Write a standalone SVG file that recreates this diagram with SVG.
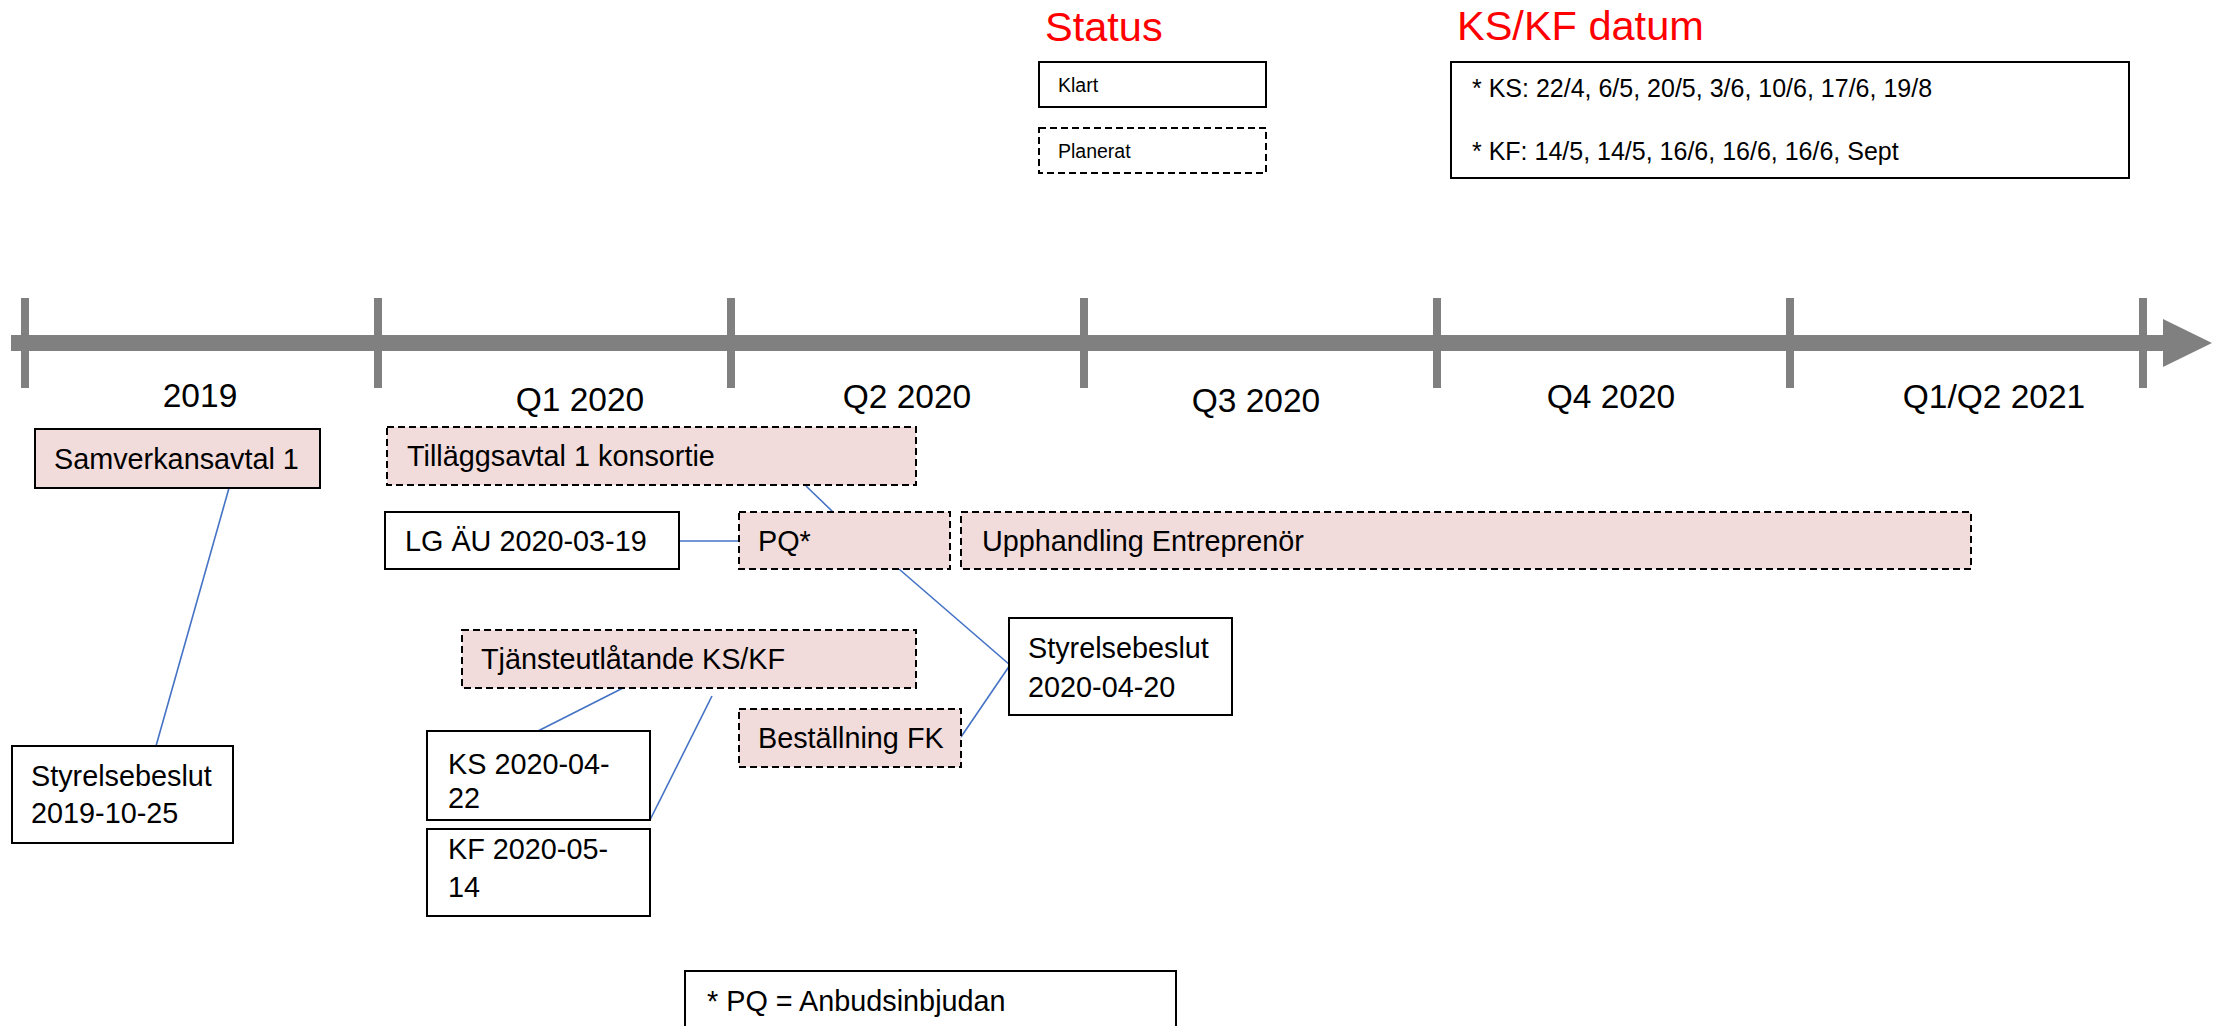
<svg xmlns="http://www.w3.org/2000/svg" width="2220" height="1026" viewBox="0 0 2220 1026">
<style>
text{font-family:"Liberation Sans",Arial,sans-serif;fill:#000}
.t{font-size:28.8px}
.axl{font-size:33.5px}
.title{font-size:41.5px;fill:#FF0000}
.small{font-size:19.5px}
.ks{font-size:25px}
.done{fill:#FFFFFF;stroke:#000;stroke-width:2}
.plan{fill:#F2DCDB;stroke:#000;stroke-width:2;stroke-dasharray:7 4}
.planw{fill:#FFFFFF;stroke:#000;stroke-width:2;stroke-dasharray:7 4}
.con line{stroke:#4472C4;stroke-width:1.6}
.axis{fill:#808080}
</style>
<g id="timeline">
<rect class="axis" x="11" y="335" width="2154" height="16"/>
<polygon class="axis" points="2163,319 2212,343 2163,367"/>
<rect class="axis" x="21" y="298" width="8" height="90"/>
<rect class="axis" x="374" y="298" width="8" height="90"/>
<rect class="axis" x="727" y="298" width="8" height="90"/>
<rect class="axis" x="1080" y="298" width="8" height="90"/>
<rect class="axis" x="1433" y="298" width="8" height="90"/>
<rect class="axis" x="1786" y="298" width="8" height="90"/>
<rect class="axis" x="2139" y="298" width="8" height="90"/>
<text class="axl" x="200" y="407" text-anchor="middle">2019</text>
<text class="axl" x="580" y="411" text-anchor="middle">Q1 2020</text>
<text class="axl" x="907" y="408" text-anchor="middle">Q2 2020</text>
<text class="axl" x="1256" y="412" text-anchor="middle">Q3 2020</text>
<text class="axl" x="1611" y="408" text-anchor="middle">Q4 2020</text>
<text class="axl" x="1994" y="408" text-anchor="middle">Q1/Q2 2021</text>
</g>
<g id="legend-status">
<text class="title" x="1045" y="41">Status</text>
<rect class="done" x="1039" y="62" width="227" height="45"/>
<text class="small" x="1058" y="92">Klart</text>
<rect class="planw" x="1039" y="128" width="227" height="45"/>
<text class="small" x="1058" y="158">Planerat</text>
</g>
<g id="legend-kskf">
<text class="title" x="1457" y="40">KS/KF datum</text>
<rect class="done" x="1451" y="62" width="678" height="116"/>
<text class="ks" x="1472" y="97">* KS: 22/4, 6/5, 20/5, 3/6, 10/6, 17/6, 19/8</text>
<text class="ks" x="1472" y="160">* KF: 14/5, 14/5, 16/6, 16/6, 16/6, Sept</text>
</g>
<g id="connectors" class="con">
<line x1="229" y1="488" x2="156" y2="746"/>
<line x1="806" y1="486" x2="833" y2="512"/>
<line x1="679" y1="541" x2="739" y2="541"/>
<line x1="899" y1="569" x2="1010" y2="665"/>
<line x1="961" y1="737" x2="1010" y2="665"/>
<line x1="623" y1="688" x2="538" y2="731"/>
<line x1="712" y1="696" x2="650" y2="820"/>
</g>
<g id="n-samverkansavtal">
<rect class="done" x="35" y="429" width="285" height="59" style="fill:#F2DCDB"/>
<text class="t" x="54" y="469">Samverkansavtal 1</text>
</g>
<g id="n-tillaggsavtal">
<rect class="plan" x="387" y="427" width="529" height="58"/>
<text class="t" x="407" y="466">Tilläggsavtal 1 konsortie</text>
</g>
<g id="n-lgau">
<rect class="done" x="385" y="512" width="294" height="57"/>
<text class="t" x="405" y="551">LG ÄU 2020-03-19</text>
</g>
<g id="n-pq">
<rect class="plan" x="739" y="512" width="211" height="57"/>
<text class="t" x="758" y="551">PQ*</text>
</g>
<g id="n-upphandling">
<rect class="plan" x="961" y="512" width="1010" height="57"/>
<text class="t" x="982" y="551">Upphandling Entreprenör</text>
</g>
<g id="n-tjansteutlatande">
<rect class="plan" x="462" y="630" width="454" height="58"/>
<text class="t" x="481" y="669">Tjänsteutlåtande KS/KF</text>
</g>
<g id="n-bestallning">
<rect class="plan" x="739" y="709" width="222" height="58"/>
<text class="t" x="758" y="748">Beställning FK</text>
</g>
<g id="n-styrelse2020">
<rect class="done" x="1009" y="618" width="223" height="97"/>
<text class="t" x="1028" y="658">Styrelsebeslut</text>
<text class="t" x="1028" y="697">2020-04-20</text>
</g>
<g id="n-styrelse2019">
<rect class="done" x="12" y="746" width="221" height="97"/>
<text class="t" x="31" y="786">Styrelsebeslut</text>
<text class="t" x="31" y="823">2019-10-25</text>
</g>
<g id="n-ks">
<rect class="done" x="427" y="731" width="223" height="89"/>
<text class="t" x="448" y="774">KS 2020-04-</text>
<text class="t" x="448" y="808">22</text>
</g>
<g id="n-kf">
<rect class="done" x="427" y="829" width="223" height="87"/>
<text class="t" x="448" y="859">KF 2020-05-</text>
<text class="t" x="448" y="897">14</text>
</g>
<g id="n-footnote">
<rect class="done" x="685" y="971" width="491" height="80"/>
<text class="t" x="707" y="1011">* PQ = Anbudsinbjudan</text>
</g>
</svg>
